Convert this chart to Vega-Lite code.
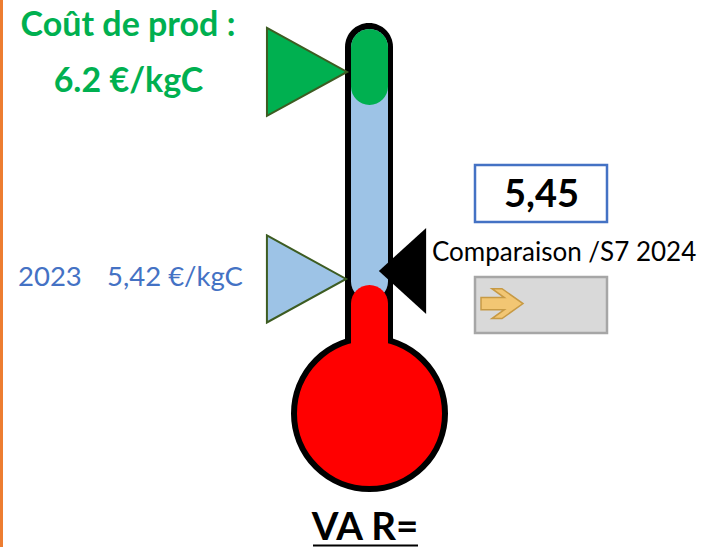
{
  "$schema": "https://vega.github.io/schema/vega-lite/v6.json",
  "width": 709,
  "height": 547,
  "padding": 0,
  "autosize": {"type": "none"},
  "background": "white",
  "config": {"view": {"stroke": null}, "font": "Lato"},
  "datasets": {
    "frame": [{"x": 1.5, "v": 6.471, "v2": 4.41}],
    "tube": [{"x": 345, "x2": 393, "v": 6.384, "v2": 5.039}],
    "bulb": [{"x": 369.5, "v": 4.913}],
    "levels": [
      {"part": "2023", "x": 351, "x2": 388, "v": 6.362, "v2": 5.341},
      {"part": "coût", "x": 351, "x2": 388, "v": 6.362, "v2": 6.075},
      {"part": "VA", "x": 351, "x2": 388, "v": 5.397, "v2": 4.964}
    ],
    "markers": [
      {"series": "Coût de prod", "x": 307, "v": 6.2},
      {"series": "2023", "x": 306.5, "v": 5.42}
    ],
    "current": [{"x": 402.5, "v": 5.45}],
    "titleText": [
      {"label": "Coût de prod :", "x": 128, "v": 6.335},
      {"label": "6.2 €/kgC", "x": 128.5, "v": 6.124}
    ],
    "refText": [
      {"label": "2023", "x": 18, "v": 5.393},
      {"label": "5,42 €/kgC", "x": 107, "v": 5.393}
    ],
    "valueBox": [{"x": 475, "x2": 607, "v": 5.849, "v2": 5.635}],
    "valueText": [{"label": "5,45", "x": 541.5, "v": 5.691}],
    "compText": [{"label": "Comparaison /S7 2024", "x": 432, "v": 5.487}],
    "compBox": [{"x": 475, "x2": 607, "v": 5.427, "v2": 5.216}],
    "arrow": [{"x": 502, "v": 5.327}],
    "footer": [{"label": "VA R=", "x": 365, "v": 4.436}],
    "underline": [{"x": 313, "x2": 418, "v": 4.416}]
  },
  "encoding": {
    "x": {"field": "x", "type": "quantitative", "scale": {"domain": [0, 709], "nice": false, "zero": false}, "axis": null},
    "y": {"field": "v", "type": "quantitative", "scale": {"domain": [4.41, 6.471], "nice": false, "zero": false}, "axis": null}
  },
  "layer": [
    {
      "data": {"name": "frame"},
      "mark": {"type": "rule", "color": "#ED7D31", "strokeWidth": 3},
      "encoding": {"y2": {"field": "v2"}}
    },
    {
      "data": {"name": "tube"},
      "mark": {"type": "rect", "color": "#000000", "cornerRadius": 24},
      "encoding": {"x2": {"field": "x2"}, "y2": {"field": "v2"}}
    },
    {
      "data": {"name": "bulb"},
      "mark": {"type": "point", "shape": "circle", "size": 22801, "filled": true, "fill": "#FF0000", "stroke": "#000000", "strokeWidth": 6, "opacity": 1}
    },
    {
      "data": {"name": "levels"},
      "transform": [{"filter": "datum.part === '2023'"}],
      "mark": {"type": "rect", "color": "#9DC3E6", "cornerRadius": 18.5},
      "encoding": {"x2": {"field": "x2"}, "y2": {"field": "v2"}}
    },
    {
      "data": {"name": "levels"},
      "transform": [{"filter": "datum.part === 'coût'"}],
      "mark": {"type": "rect", "color": "#00B050", "cornerRadius": 18.5},
      "encoding": {"x2": {"field": "x2"}, "y2": {"field": "v2"}}
    },
    {
      "data": {"name": "levels"},
      "transform": [{"filter": "datum.part === 'VA'"}],
      "mark": {"type": "rect", "color": "#FF0000", "cornerRadius": 18.5},
      "encoding": {"x2": {"field": "x2"}, "y2": {"field": "v2"}}
    },
    {
      "data": {"name": "markers"},
      "transform": [{"filter": "datum.series === 'Coût de prod'"}],
      "mark": {"type": "point", "shape": "M-0.91,-1L0.91,0L-0.91,1Z", "size": 7744, "filled": true, "fill": "#00B050", "stroke": "#3D5C22", "strokeWidth": 2, "opacity": 1}
    },
    {
      "data": {"name": "markers"},
      "transform": [{"filter": "datum.series === '2023'"}],
      "mark": {"type": "point", "shape": "M-0.91,-1L0.91,0L-0.91,1Z", "size": 7569, "filled": true, "fill": "#9DC3E6", "stroke": "#3D5C22", "strokeWidth": 2, "opacity": 1}
    },
    {
      "data": {"name": "current"},
      "mark": {"type": "point", "shape": "M0.55,-1L-0.55,0L0.55,1Z", "size": 7396, "filled": true, "fill": "#000000", "strokeWidth": 0, "opacity": 1}
    },
    {
      "data": {"name": "titleText"},
      "mark": {"type": "text", "font": "Lato", "fontWeight": "bold", "fontSize": 34, "color": "#00B050", "align": "center", "baseline": "alphabetic"},
      "encoding": {"text": {"field": "label"}}
    },
    {
      "data": {"name": "refText"},
      "mark": {"type": "text", "font": "Lato", "fontSize": 27.5, "color": "#4472C4", "align": "left", "baseline": "alphabetic"},
      "encoding": {"text": {"field": "label"}}
    },
    {
      "data": {"name": "valueBox"},
      "mark": {"type": "rect", "fill": "#FFFFFF", "stroke": "#4472C4", "strokeWidth": 2.5},
      "encoding": {"x2": {"field": "x2"}, "y2": {"field": "v2"}}
    },
    {
      "data": {"name": "valueText"},
      "mark": {"type": "text", "font": "Lato", "fontWeight": "bold", "fontSize": 38, "color": "#000000", "align": "center", "baseline": "alphabetic"},
      "encoding": {"text": {"field": "label"}}
    },
    {
      "data": {"name": "compText"},
      "mark": {"type": "text", "font": "Lato", "fontSize": 26, "color": "#000000", "align": "left", "baseline": "alphabetic"},
      "encoding": {"text": {"field": "label"}}
    },
    {
      "data": {"name": "compBox"},
      "mark": {"type": "rect", "fill": "#D9D9D9", "stroke": "#A6A6A6", "strokeWidth": 2.5},
      "encoding": {"x2": {"field": "x2"}, "y2": {"field": "v2"}}
    },
    {
      "data": {"name": "arrow"},
      "mark": {"type": "point", "shape": "M-1,-0.29L0.11,-0.29L-0.48,-0.71L0,-0.71L1,0L0,0.71L-0.48,0.71L0.11,0.29L-1,0.29Z", "size": 1764, "filled": true, "fill": "#F2C673", "stroke": "#C79A45", "strokeWidth": 1.5, "opacity": 1}
    },
    {
      "data": {"name": "footer"},
      "mark": {"type": "text", "font": "Lato", "fontWeight": "bold", "fontSize": 38.5, "color": "#000000", "align": "center", "baseline": "alphabetic"},
      "encoding": {"text": {"field": "label"}}
    },
    {
      "data": {"name": "underline"},
      "mark": {"type": "rule", "color": "#000000", "strokeWidth": 2},
      "encoding": {"x2": {"field": "x2"}}
    }
  ]
}
